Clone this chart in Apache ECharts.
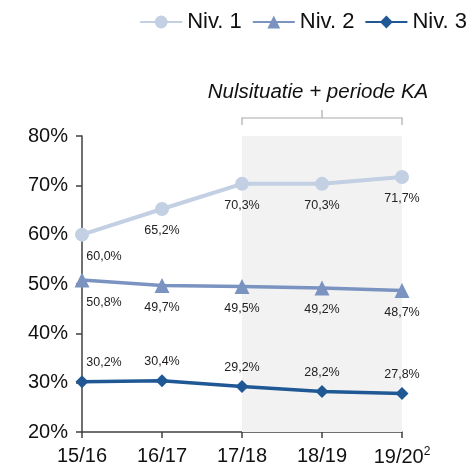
<!DOCTYPE html>
<html><head><meta charset="utf-8">
<script src="https://cdn.jsdelivr.net/npm/echarts@6/dist/echarts.min.js"></script>
<style>html,body{margin:0;padding:0;background:#fff}#c{width:473px;height:468px}</style>
</head><body><div id="c"></div>
<script>
var categories = ['15/16','16/17','17/18','18/19','19/20'];
var niv1 = [60.0, 65.2, 70.3, 70.3, 71.7];
var niv2 = [50.8, 49.7, 49.5, 49.2, 48.7];
var niv3 = [30.2, 30.4, 29.2, 28.2, 27.8];
var seriesNames = ['Niv. 1','Niv. 2','Niv. 3'];
var shadeFrom = '17/18', shadeTo = '19/20';
var annotation = 'Nulsituatie + periode KA';

var chart = echarts.init(document.getElementById('c'), null, {renderer:'canvas'});
function fmt(v){ return v.toFixed(1).replace('.', ',') + '%'; }
function mk(arr){ return arr.map(function(v,i){ var d={value:v}; if(i===0){ d.label={offset:[22,0]}; } return d; }); }
var lblBase = {show:true, fontSize:12.5, color:'#222', fontFamily:'Liberation Sans, Arial', formatter:function(p){return fmt(p.value);}};
var option = {
  animation:false,
  legend:{right:1, top:6, itemWidth:42, itemHeight:16, itemGap:10,
    textStyle:{fontSize:22, color:'#111', fontFamily:'Liberation Sans, Arial'}, data:seriesNames},
  grid:{left:82, right:71, top:136, bottom:36},
  xAxis:{type:'category', data:categories, boundaryGap:false,
    axisLine:{lineStyle:{color:'#404040', width:1.5}},
    axisTick:{show:true, length:6, alignWithLabel:true, interval:0, lineStyle:{color:'#404040', width:1.5}},
    axisLabel:{fontSize:20, color:'#111', fontFamily:'Liberation Sans, Arial', margin:14, interval:0,
      formatter:function(v){ return v==='19/20' ? v+'{sup|2}' : v; },
      rich:{sup:{fontSize:12, verticalAlign:'top', padding:[0,0,10,0], color:'#111'}}},
    splitLine:{show:false}},
  yAxis:{type:'value', min:20, max:80, interval:10,
    axisLine:{show:true, lineStyle:{color:'#404040', width:1.5}},
    axisTick:{show:true, length:6, lineStyle:{color:'#404040', width:1.5}},
    axisLabel:{fontSize:20, color:'#111', fontFamily:'Liberation Sans, Arial', margin:14, formatter:'{value}%'},
    splitLine:{show:false}},
  series:[
    {name:seriesNames[0], type:'line', data:mk(niv1), symbol:'circle', symbolSize:14,
      lineStyle:{color:'#c3cfe3', width:4}, itemStyle:{color:'#c3cfe3'},
      label:Object.assign({position:'bottom', distance:8}, lblBase), z:4,
      markArea:{silent:true, itemStyle:{color:'#f2f2f2'}, data:[[{xAxis:shadeFrom},{xAxis:shadeTo}]]}},
    {name:seriesNames[1], type:'line', data:mk(niv2), symbol:'triangle', symbolSize:15,
      lineStyle:{color:'#7a93c0', width:3.5}, itemStyle:{color:'#7a93c0'},
      label:Object.assign({position:'bottom', distance:8}, lblBase), z:4},
    {name:seriesNames[2], type:'line', data:mk(niv3), symbol:'diamond', symbolSize:13,
      lineStyle:{color:'#1f5894', width:3.5}, itemStyle:{color:'#1f5894'},
      label:Object.assign({position:'top', distance:6}, lblBase), z:4}
  ]
};
chart.setOption(option);
var x0 = chart.convertToPixel({xAxisIndex:0}, shadeFrom);
var x1 = chart.convertToPixel({xAxisIndex:0}, shadeTo);
var xm = (x0+x1)/2;
var yb = 118;
chart.setOption({graphic:[
  {type:'polyline', shape:{points:[[x0,yb+7],[x0,yb],[x1,yb],[x1,yb+7]]}, style:{stroke:'#aaa', lineWidth:1.2, fill:null}},
  {type:'line', shape:{x1:xm, y1:yb, x2:xm, y2:yb-8}, style:{stroke:'#aaa', lineWidth:1.2}},
  {type:'text', x:xm-4, y:92, style:{text:annotation, font:'italic 20.5px Liberation Sans, Arial', fill:'#111', textAlign:'center', textVerticalAlign:'middle'}}
]});
</script></body></html>
